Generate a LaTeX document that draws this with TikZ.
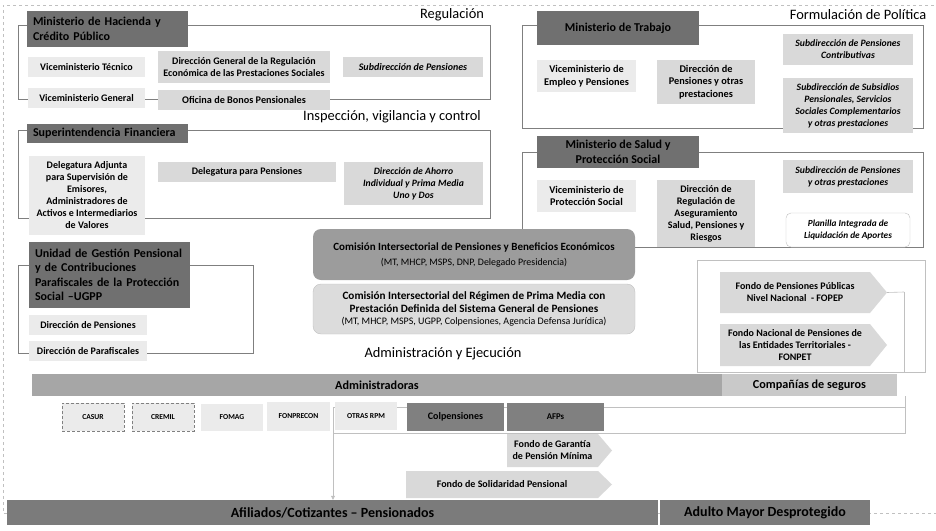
\documentclass[tikz,border=0pt]{standalone}
\usepackage{fontspec}
\setmainfont{Carlito}
\usetikzlibrary{arrows.meta}
\definecolor{hdr}{HTML}{707070}
\definecolor{vlight}{HTML}{EBEBEB}
\definecolor{light}{HTML}{D9D9D9}
\definecolor{comone}{HTML}{9C9C9C}
\definecolor{comtwo}{HTML}{DCDCDC}
\definecolor{admgray}{HTML}{A6A6A6}
\definecolor{compgray}{HTML}{C9C9C9}
\definecolor{afilgray}{HTML}{7B7B7B}
\definecolor{darkbox}{HTML}{808080}
\definecolor{framegray}{HTML}{7F7F7F}
\definecolor{faintgray}{HTML}{C0C0C0}
\newcommand\fsz[2]{\fontsize{#1}{#2}\selectfont}
% centred box: name x1 y1 x2 y2 style text
\newcommand\bx[7]{%
  \pgfmathsetmacro\bxW{#4-#2}\pgfmathsetmacro\bxH{#5-#3}%
  \node[#6, minimum width=\bxW pt, minimum height=\bxH pt] (#1) at ({(#2+#4)/2},{(#3+#5)/2}) {#7};}
% left aligned box
\newcommand\bxl[7]{%
  \pgfmathsetmacro\bxW{#4-#2}\pgfmathsetmacro\bxH{#5-#3}\pgfmathsetmacro\bxT{#4-#2-12}%
  \node[#6, minimum width=\bxW pt, minimum height=\bxH pt, text width=\bxT pt, inner xsep=6pt, align=left] (#1) at ({(#2+#4)/2},{(#3+#5)/2}) {#7};}
% arrow-shaped box: name x1 y1 x2 y2 tipdepth text
\newcommand\sig[7]{%
  \fill[light] (#2,#3) -- ({#4-#6},#3) -- (#4,{(#3+#5)/2}) -- ({#4-#6},#5) -- (#2,#5) -- cycle;
  \pgfmathsetmacro\bxW{#4-#2-#6}\pgfmathsetmacro\bxH{#5-#3}%
  \node[base, minimum width=\bxW pt, minimum height=\bxH pt] (#1) at ({(#2+#4-#6)/2},{(#3+#5)/2}) {#7};}
\begin{document}
\begin{tikzpicture}[x=1pt,y=-1pt,
  base/.style={inner sep=0pt, align=center, font=\bfseries\fsz{10}{12}},
  hdrbox/.style={base, fill=hdr, font=\bfseries\fsz{12}{14.5}},
  vl/.style={base, fill=vlight},
  lt/.style={base, fill=light},
  itl/.style={base, fill=light, font=\bfseries\itshape\fsz{9.7}{12}},
  frame/.style={draw=framegray, line width=0.8pt},
  faint/.style={draw=faintgray, line width=0.6pt},
  title/.style={inner sep=0pt, font=\fsz{14.4}{17}},
  small/.style={base, font=\bfseries\fsz{7.6}{9}},
  bar/.style={inner sep=0pt, font=\bfseries\fsz{12.2}{14}},
  bigbar/.style={inner sep=0pt, font=\bfseries\fsz{14}{16}},
  comone/.style={base, fill=comone, rounded corners=8pt, font=\bfseries\fsz{11}{15}},
  comtwo/.style={base, fill=comtwo, draw=faintgray, rounded corners=8pt, font=\bfseries\fsz{11.2}{12.5}}
]
\useasboundingbox (0,0) rectangle (936,530);
% outer dashed border
\draw[faintgray, dashed, line width=0.8pt] (940,5) -- (3,5) -- (3,513) -- (940,513);

% frames
\draw[frame] (18,25) rectangle (490,99);
\draw[frame] (522,25) rectangle (923,128);
\draw[frame] (18,130) rectangle (490,218);
\draw[frame] (522,152) rectangle (923,247);
\draw[frame] (18,265) rectangle (253,353);
\draw[faint] (697,260) rectangle (925,372);

% titles
\node[title] (treg) at (452,15) {Regulación};
\node[title] (tfor) at (858,15) {Formulación de Política};
\node[title] (tins) at (392,117) {Inspección, vigilancia y control};
\node[title] (tadm) at (443,354) {Administración y Ejecución};

% Regulacion
\bxl{mhcp}{27}{11}{188}{47}{hdrbox}{Ministerio de Hacienda y\\Crédito Público}
\bx{vmt}{28}{57}{145}{77}{vl}{Viceministerio Técnico}
\bx{vmg}{28}{88}{145}{108}{vl}{Viceministerio General}
\bx{dgr}{158}{51}{330}{83}{lt, font=\bfseries\fsz{10}{12.5}}{Dirección General de la Regulación\\Económica de las Prestaciones Sociales}
\bx{obp}{158}{90}{330}{110}{lt, font=\bfseries\fsz{10.2}{12}}{Oficina de Bonos Pensionales}
\bx{sdp}{343}{57}{483}{77}{itl, font=\bfseries\itshape\fsz{10}{12}}{Subdirección de Pensiones}

% Formulacion
\bx{mt}{537}{11}{699}{45}{hdrbox}{Ministerio de Trabajo}
\bx{vmep}{537}{60}{636}{92}{vl, font=\bfseries\fsz{10.3}{12.5}}{Viceministerio de\\Empleo y Pensiones}
\bx{dpop}{657}{60}{755}{104}{lt, font=\bfseries\fsz{10.3}{12.5}}{Dirección de\\Pensiones y otras\\prestaciones}
\bx{sdpc}{783}{34}{913}{65}{itl}{Subdirección de Pensiones\\Contributivas}
\bx{sdss}{783}{78}{913}{133}{itl}{Subdirección de Subsidios\\Pensionales, Servicios\\Sociales Complementarios\\y otras prestaciones}

% Salud
\bx{msps}{537}{136}{699}{168}{hdrbox}{Ministerio de Salud y\\Protección Social}
\bx{vmps}{537}{180}{636}{212}{vl, font=\bfseries\fsz{10.3}{12.5}}{Viceministerio de\\Protección Social}
\bx{drasp}{657}{180}{755}{247}{lt}{Dirección de\\Regulación de\\Aseguramiento\\Salud, Pensiones y\\Riesgos}
\bx{sdpop}{783}{160}{913}{193}{itl}{Subdirección de Pensiones\\y otras prestaciones}
\bx{pila}{786}{213}{910}{247}{itl, fill=white, draw=faintgray, rounded corners=5pt, font=\bfseries\itshape\fsz{9.3}{12}}{Planilla Integrada de\\Liquidación de Aportes}

% Inspeccion
\bxl{sfc}{27}{124}{188}{143}{hdrbox}{Superintendencia Financiera}
\bx{dase}{29}{156}{145}{235}{vl}{Delegatura Adjunta\\para Supervisión de\\Emisores,\\Administradores de\\Activos e Intermediarios\\de Valores}
\bx{dpp}{158}{162}{336}{182}{lt}{Delegatura para Pensiones}
\bx{dai}{344}{162}{483}{205}{itl}{Dirección de Ahorro\\Individual y Prima Media\\Uno y Dos}

% UGPP
\bxl{ugpp}{29}{242}{190}{308}{hdrbox, inner xsep=8pt}{Unidad de Gestión Pensional\\y de Contribuciones\\Parafiscales de la Protección\\Social –UGPP}
\bx{udp}{29}{315}{147}{335}{vl}{Dirección de Pensiones}
\bx{udpf}{29}{341}{147}{361}{vl}{Dirección de Parafiscales}

% Comisiones
\bx{cipbe}{313}{229}{635}{280}{comone}{Comisión Intersectorial de Pensiones y Beneficios Económicos\\{\mdseries\fsz{9.9}{12}(MT, MHCP, MSPS, DNP, Delegado Presidencia)}}
\bx{cirpm}{313}{284}{635}{334}{comtwo}{Comisión Intersectorial del Régimen de Prima Media con\\Prestación Definida del Sistema General de Pensiones\\{\mdseries\fsz{10}{12}(MT, MHCP, MSPS, UGPP, Colpensiones, Agencia Defensa Jurídica)}}

% Fondos
\sig{fopep}{720}{272}{887}{313}{17}{Fondo de Pensiones Públicas\\Nivel Nacional \ - FOPEP}
\sig{fonpet}{720}{324}{887}{366}{17}{Fondo Nacional de Pensiones de\\las Entidades Territoriales -\\FONPET}
\coordinate (fj) at (904,292);
\draw[faint] (fopep.east -| 887,0) -- (fj);

% administrator row frame and arrow
\coordinate (rowtl) at (333,407);
\coordinate (rowbr) at (905,433);
\draw[faint] (rowtl) rectangle (rowbr);
\draw[faint] (fj) -- (904,372);
\draw[faint] (905,396) -- (905,407);

% bars
\bx{admin}{32}{374}{722}{396}{bar, fill=admgray}{Administradoras}
\bx{comp}{722}{374}{897}{396}{bar, fill=compgray}{Compañías de seguros}

% row
\bx{casur}{62}{403}{124}{431}{small, fill=vlight, draw=darkbox, densely dashed, line width=0.4pt}{CASUR}
\bx{cremil}{132}{403}{194}{431}{small, fill=vlight, draw=darkbox, densely dashed, line width=0.4pt}{CREMIL}
\bx{fomag}{201}{404}{263}{431}{small, fill=vlight}{FOMAG}
\bx{fonprecon}{267}{402}{330}{431}{small, fill=vlight}{FONPRECON}
\bx{otras}{335}{402}{397}{430}{small, fill=vlight}{OTRAS RPM}
\bx{colp}{407}{403}{504}{431}{base, fill=darkbox, font=\bfseries\fsz{10}{12}}{Colpensiones}
\bx{afps}{507}{403}{604}{431}{base, fill=darkbox, font=\bfseries\fsz{8.8}{10}}{AFPs}

\sig{fgpm}{507}{434}{612}{467}{14}{Fondo de Garantía\\de Pensión Mínima}
\sig{fsp}{406}{471}{612}{498}{14}{Fondo de Solidaridad Pensional}

% bottom bars
\bx{afil}{7}{500}{658}{525}{bigbar, fill=afilgray}{Afiliados/Cotizantes – Pensionados}
\bx{adulto}{660}{500}{870}{525}{bigbar, fill=afilgray}{Adulto Mayor Desprotegido}

\draw[faint, -{Triangle[length=4pt,width=4pt]}] (rowtl) -- (rowtl |- afil.north);
\end{tikzpicture}
\end{document}
